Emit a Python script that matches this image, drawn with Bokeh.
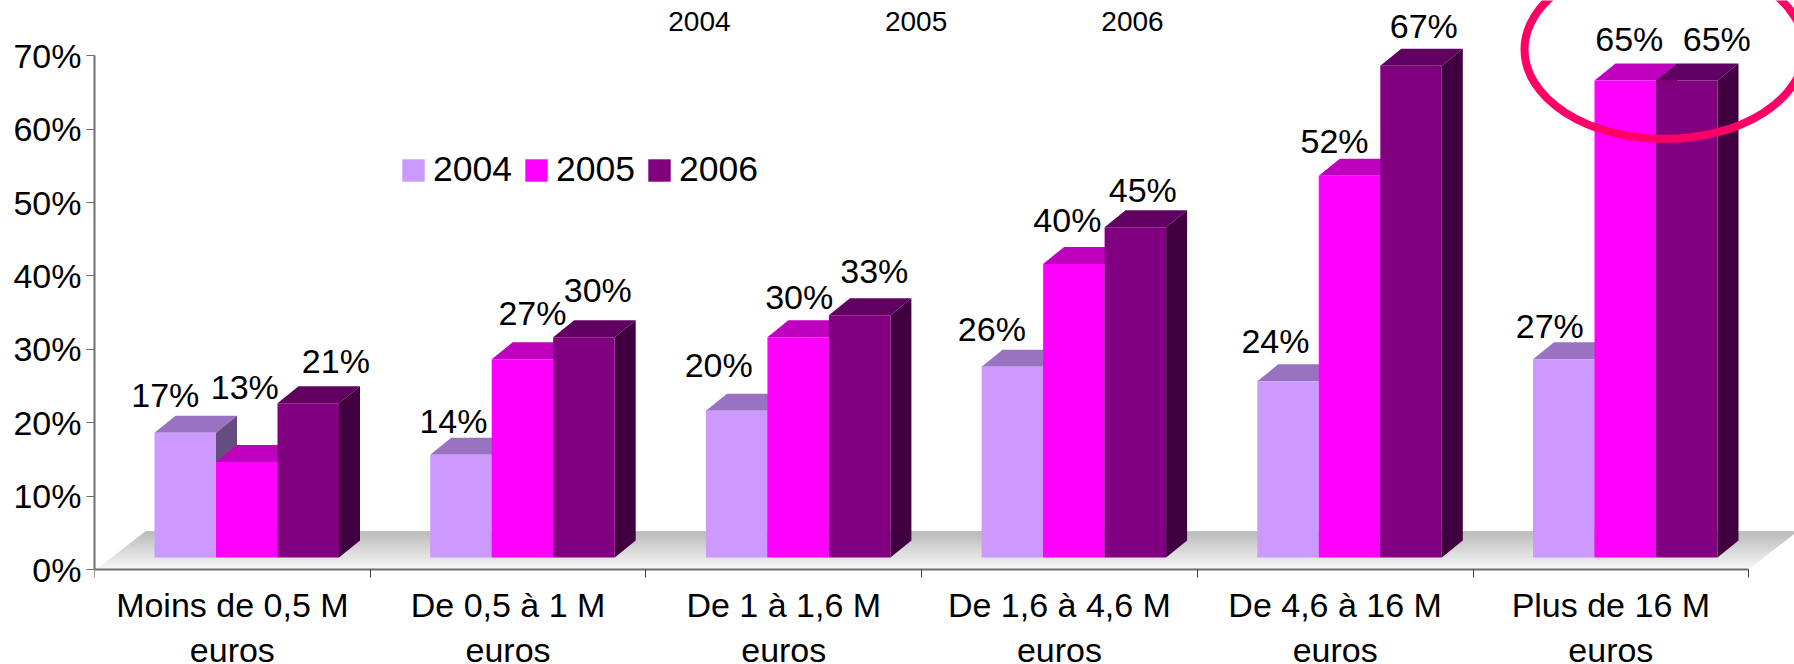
from bokeh.plotting import figure
from bokeh.models import FixedTicker, Legend, LegendItem, Range1d
from bokeh.embed import file_html
from bokeh.resources import INLINE
from bokeh.core.properties import value

FONT = "Liberation Sans"

# ---- data -----------------------------------------------------------------
categories = ["Moins de 0,5 M", "De 0,5 à 1 M", "De 1 à 1,6 M",
              "De 1,6 à 4,6 M", "De 4,6 à 16 M", "Plus de 16 M"]
category_unit = "euros"
years = ["2004", "2005", "2006"]
values_2004 = [17, 14, 20, 26, 24, 27]
values_2005 = [13, 27, 30, 40, 52, 65]
values_2006 = [21, 30, 33, 45, 67, 65]
y_ticks = [0, 10, 20, 30, 40, 50, 60, 70]

# ---- styles ---------------------------------------------------------------
front_colors = ["#CC99FF", "#FF00FF", "#800080"]
top_colors = ["#9973BF", "#BF00BF", "#600060"]
side_colors = ["#664D80", "#800080", "#400040"]
TEXT_SIZE = "34px"

# manual placement of the value labels, px from each bar's top centre
label_dx = [[-20, -7.5, -18, -20.5, -12.6, -14],
            [-2, 10, 1, -6.5, -15, 4],
            [27.6, 13.8, 14.6, 7.4, 12.7, 30]]
label_dy = [[-38, -33.5, -46, -38, -40, -33],
            [-75, -46, -40, -44, -35, -41],
            [-42, -47, -44, -37, -39.5, -41]]

# ---- geometry of the figure ------------------------------------------------
PX_X = 275.7      # px per category
PX_Y = 7.34       # px per percent
FRAME_W = 1700
ABOVE_ZERO, BELOW_ZERO = 569, 95   # px of the frame above and below 0 %

BAR_START = 60 / PX_X
BAR_W = 61.5 / PX_X
DEPTH_X = 21 / PX_X
DEPTH_Y = 17 / PX_Y
BASE = 12 / PX_Y  # bars stand on the floor, above the axis line

p = figure(width=1794, height=664, output_backend="svg", toolbar_location=None,
           x_range=Range1d(0, FRAME_W / PX_X),
           y_range=Range1d(-BELOW_ZERO / PX_Y, ABOVE_ZERO / PX_Y),
           min_border_left=94, min_border_right=0, min_border_top=0, min_border_bottom=0,
           outline_line_color=None, background_fill_color=None, border_fill_color="white")
p.grid.visible = False

# ---- floor (banded gradient) ----------------------------------------------
FLOOR_BANDS = 38
floor_h = 38 / PX_Y
floor_dx = 49 / PX_X
floor_left = 2 / PX_X
floor_right = 1654 / PX_X
xs, ys, cols = [], [], []
for k in range(FLOOR_BANDS):
    t0, t1 = k / FLOOR_BANDS, (k + 1) / FLOOR_BANDS
    xs.append([floor_left + floor_dx * t0, floor_right + floor_dx * t0,
               floor_right + floor_dx * t1, floor_left + floor_dx * t1])
    ys.append([floor_h * t0, floor_h * t0, floor_h * t1 + 0.02, floor_h * t1 + 0.02])
    g = int(round(248 - (248 - 176) * (k + .5) / FLOOR_BANDS))
    cols.append("#%02x%02x%02x" % (g, g, g))
p.patches(xs, ys, fill_color=cols, line_color=None)

# ---- 3D bars ---------------------------------------------------------------
series = [values_2004, values_2005, values_2006]
legend_items = []
centres_x, centres_y, dxs, dys, texts = [], [], [], [], []
for g in range(len(categories)):
    for s, vals in enumerate(series):
        v = vals[g]
        x0 = g + BAR_START + s * BAR_W
        x1 = x0 + BAR_W
        y0, y1 = BASE, BASE + v
        p.patch([x0, x1, x1 + DEPTH_X, x0 + DEPTH_X],
                [y1, y1, y1 + DEPTH_Y, y1 + DEPTH_Y],
                fill_color=top_colors[s], line_color=None)
        p.patch([x1, x1 + DEPTH_X, x1 + DEPTH_X, x1],
                [y0, y0 + DEPTH_Y, y1 + DEPTH_Y, y1],
                fill_color=side_colors[s], line_color=None)
        r = p.quad(left=x0, right=x1, bottom=y0, top=y1,
                   fill_color=front_colors[s], line_color=None)
        if g == 0:
            legend_items.append(LegendItem(label=years[s], renderers=[r]))
        centres_x.append((x0 + x1) / 2)
        centres_y.append(y1)
        dxs.append(label_dx[s][g])
        dys.append(label_dy[s][g])
        texts.append(f"{v}%")

# ---- value labels ----------------------------------------------------------
p.text(x=centres_x, y=centres_y, text=texts, x_offset=dxs, y_offset=dys,
       text_font=value(FONT), text_font_size=TEXT_SIZE, text_color="black",
       text_align="center", text_baseline="middle")

# ---- stray years at the top of the picture ---------------------------------
p.text(x=[2.194, 2.98, 3.765], y=[74.7, 74.7, 74.7], text=years,
       text_font=value(FONT), text_font_size="28px", text_color="black",
       text_align="center", text_baseline="middle")

# ---- red hand-drawn ring ---------------------------------------------------
p.ellipse(x=[(1664 - 94) / PX_X], y=[(569 - 49) / PX_Y],
          width=[280 / PX_X], height=[179 / PX_Y],
          fill_color=None, line_color="#FF0066", line_width=8)

# ---- axes ------------------------------------------------------------------
AXIS_COLOR = "#6E6E6E"
yax = p.yaxis[0]
yax.ticker = FixedTicker(ticks=y_ticks)
yax.bounds = (0, 70)
yax.major_label_overrides = {t: f"{t}%" for t in y_ticks}
yax.major_tick_out = 8
yax.major_tick_in = 0
yax.minor_tick_out = 0
yax.minor_tick_in = 0
yax.major_label_standoff = 5
yax.major_label_text_font = FONT
yax.major_label_text_font_size = TEXT_SIZE
yax.major_label_text_color = "black"
yax.axis_line_color = AXIS_COLOR
yax.axis_line_width = 2
yax.major_tick_line_color = AXIS_COLOR
yax.major_tick_line_width = 1

xax = p.xaxis[0]
n = len(categories)
xax.fixed_location = 0
xax.ticker = FixedTicker(ticks=[i + 0.5 for i in range(n)], minor_ticks=list(range(n + 1)))
xax.bounds = (0, n)
xax.major_label_overrides = {i + 0.5: c for i, c in enumerate(categories)}
xax.major_tick_out = 0
xax.major_tick_in = 0
xax.minor_tick_out = 8
xax.minor_tick_in = 0
xax.minor_tick_line_color = "#404040"
xax.minor_tick_line_width = 1
xax.major_label_standoff = 8
xax.major_label_text_font = FONT
xax.major_label_text_font_size = TEXT_SIZE
xax.major_label_text_color = "black"
xax.axis_line_color = AXIS_COLOR
xax.axis_line_width = 2

# second line of each category label
p.text(x=[i + 0.5 for i in range(n)], y=[-80 / PX_Y] * n, text=[category_unit] * n,
       text_font=value(FONT), text_font_size=TEXT_SIZE, text_color="black",
       text_align="center", text_baseline="middle")

# ---- legend ----------------------------------------------------------------
legend = Legend(items=legend_items, orientation="horizontal",
                location=(305, 664 - 190),
                glyph_width=28, glyph_height=28, label_standoff=6, spacing=10,
                padding=0, margin=0, border_line_color=None, background_fill_alpha=0,
                label_text_font=FONT, label_text_font_size="35.5px", label_text_color="black",
                label_height=28)
p.add_layout(legend, "center")

open("out.html", "w").write(file_html(p, INLINE))
